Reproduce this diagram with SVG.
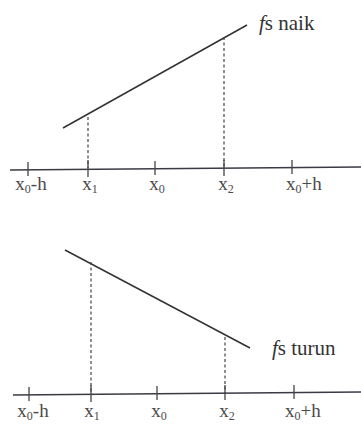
<svg xmlns="http://www.w3.org/2000/svg" width="361" height="428" viewBox="0 0 361 428">
<style>
.axis{stroke:#3a3a44;stroke-width:1.6;fill:none}
.tick{stroke:#444;stroke-width:1.3}
.fn{stroke:#333;stroke-width:1.5;fill:none}
.dash{stroke:#444;stroke-width:1.2;stroke-dasharray:3,2.5;fill:none}
text{font-family:"Liberation Serif","Times New Roman",serif;font-size:19px;fill:#4a4a4a}
.lbl{text-anchor:middle}
.sub{font-size:12px}
.fs{font-size:21px;fill:#333}
</style>
<rect width="361" height="428" fill="#fff"/>
<g id="top-graph">
  <g id="connectors-top">
    <line class="axis" x1="10" y1="170" x2="361" y2="167"/>
    <line class="fn" x1="63" y1="128" x2="247" y2="25"/>
    <line class="dash" x1="88" y1="117" x2="88" y2="168"/>
    <line class="dash" x1="224" y1="37" x2="224" y2="168"/>
  </g>
  <g id="ticks-top">
    <line class="tick" x1="28" y1="162" x2="28" y2="176"/>
    <line class="tick" x1="88" y1="160" x2="88" y2="177"/>
    <line class="tick" x1="155" y1="161" x2="155" y2="175"/>
    <line class="tick" x1="224" y1="160" x2="224" y2="176"/>
    <line class="tick" x1="292" y1="160" x2="292" y2="174"/>
  </g>
  <g id="labels-top">
    <text x="31" y="190" class="lbl">x<tspan class="sub" dy="3">0</tspan><tspan dy="-3">-h</tspan></text>
    <text x="90" y="190" class="lbl">x<tspan class="sub" dy="3">1</tspan></text>
    <text x="157" y="190" class="lbl">x<tspan class="sub" dy="3">0</tspan></text>
    <text x="226" y="190" class="lbl">x<tspan class="sub" dy="3">2</tspan></text>
    <text x="286" y="190">x<tspan class="sub" dy="3">0</tspan><tspan dy="-3">+h</tspan></text>
    <text x="259" y="30" class="fs"><tspan font-style="italic">f</tspan>s naik</text>
  </g>
</g>
<g id="bottom-graph">
  <g id="connectors-bottom">
    <line class="axis" x1="13" y1="395" x2="361" y2="392"/>
    <line class="fn" x1="65" y1="250" x2="250" y2="348"/>
    <line class="dash" x1="91" y1="262" x2="91" y2="394"/>
    <line class="dash" x1="225" y1="337" x2="225" y2="393"/>
  </g>
  <g id="ticks-bottom">
    <line class="tick" x1="29" y1="387" x2="29" y2="401"/>
    <line class="tick" x1="91" y1="385" x2="91" y2="402"/>
    <line class="tick" x1="157" y1="386" x2="157" y2="400"/>
    <line class="tick" x1="225" y1="385" x2="225" y2="400"/>
    <line class="tick" x1="294" y1="385" x2="294" y2="399"/>
  </g>
  <g id="labels-bottom">
    <text x="33" y="417" class="lbl">x<tspan class="sub" dy="3">0</tspan><tspan dy="-3">-h</tspan></text>
    <text x="92" y="417" class="lbl">x<tspan class="sub" dy="3">1</tspan></text>
    <text x="159" y="417" class="lbl">x<tspan class="sub" dy="3">0</tspan></text>
    <text x="227" y="417" class="lbl">x<tspan class="sub" dy="3">2</tspan></text>
    <text x="285" y="417">x<tspan class="sub" dy="3">0</tspan><tspan dy="-3">+h</tspan></text>
    <text x="272" y="355" class="fs"><tspan font-style="italic">f</tspan>s turun</text>
  </g>
</g>
</svg>
